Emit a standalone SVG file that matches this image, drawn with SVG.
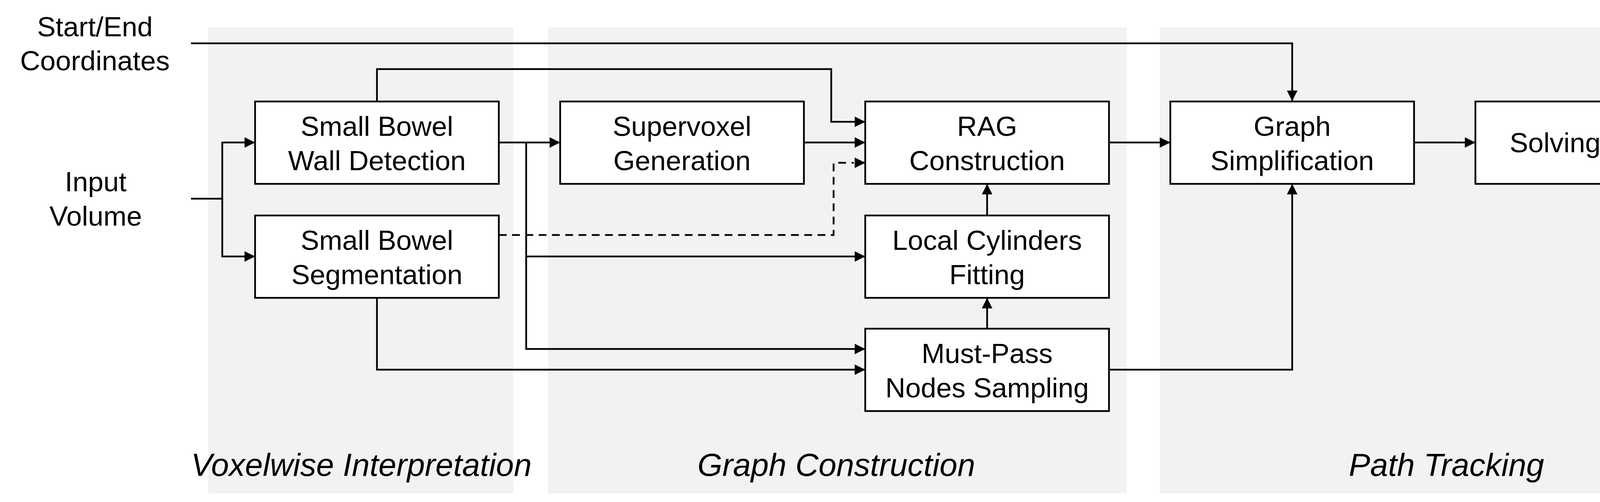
<svg xmlns="http://www.w3.org/2000/svg" width="4925" height="1286" viewBox="0 0 4925 1286">
<style>
.panel{fill:#f2f2f2}
.box{fill:#ffffff;stroke:#000000;stroke-width:4.5}
.t{font-family:"Liberation Sans",Arial,sans-serif;font-size:71px;fill:#000;text-anchor:middle}
.title{font-family:"Liberation Sans",Arial,sans-serif;font-size:82px;font-style:italic;fill:#000;text-anchor:middle}
.c{fill:none;stroke:#000;stroke-width:4.5}
.a{marker-end:url(#ah)}
.d{stroke-dasharray:20 14}
</style>
<defs>
<marker id="ah" markerUnits="userSpaceOnUse" markerWidth="28" markerHeight="28" refX="27" refY="13.5" orient="auto">
<path d="M0,0 L27,13.5 L0,27 z" fill="#000"/>
</marker>
</defs>
<g id="panels">
<rect class="panel" x="533" y="70" width="781" height="1194"/>
<rect class="panel" x="1403" y="70" width="1481" height="1194"/>
<rect class="panel" x="2969" y="70" width="1468" height="1194"/>
</g>
<g id="titles">
<text class="title" x="925" y="1219">Voxelwise Interpretation</text>
<text class="title" x="2141" y="1219">Graph Construction</text>
<text class="title" x="3703" y="1219">Path Tracking</text>
</g>
<g id="connectors">
<path class="c a" d="M489,111 H3308 V259"/>
<path class="c" d="M489,509 H569"/>
<path class="c a" d="M569,509 V365 H653"/>
<path class="c a" d="M569,509 V657 H653"/>
<path class="c a" d="M965,260 V177 H2128 V312 H2215"/>
<path class="c a" d="M1277,365 H1434"/>
<path class="c a" d="M1347,365 V894 H2215"/>
<path class="c a" d="M1347,657 H2215"/>
<path class="c a" d="M2059,365 H2215"/>
<path class="c d" d="M1277,602 H2134 V417 H2186"/>
<path class="c a" d="M2190,417 H2215"/>
<path class="c a" d="M965,763 V947 H2215"/>
<path class="c a" d="M2527,842 V763"/>
<path class="c a" d="M2527,552 V471"/>
<path class="c a" d="M2839,365 H2996"/>
<path class="c a" d="M2839,947 H3308 V471"/>
<path class="c a" d="M3620,365 H3777"/>
<path class="c a" d="M4402,365 H4557"/>
</g>
<g id="start-end">
<text class="t" x="243" y="93">Start/End</text>
<text class="t" x="243" y="180">Coordinates</text>
</g>
<g id="input-volume">
<text class="t" x="245" y="490">Input</text>
<text class="t" x="245" y="578">Volume</text>
</g>
<g id="wall-detection">
<rect class="box" x="653" y="260" width="624" height="211"/>
<text class="t" x="965" y="348">Small Bowel</text>
<text class="t" x="965" y="436">Wall Detection</text>
</g>
<g id="segmentation">
<rect class="box" x="653" y="552" width="624" height="211"/>
<text class="t" x="965" y="640">Small Bowel</text>
<text class="t" x="965" y="728">Segmentation</text>
</g>
<g id="supervoxel">
<rect class="box" x="1434" y="260" width="624" height="211"/>
<text class="t" x="1746" y="348">Supervoxel</text>
<text class="t" x="1746" y="436">Generation</text>
</g>
<g id="rag">
<rect class="box" x="2215" y="260" width="624" height="211"/>
<text class="t" x="2527" y="348">RAG</text>
<text class="t" x="2527" y="436">Construction</text>
</g>
<g id="cylinders">
<rect class="box" x="2215" y="552" width="624" height="211"/>
<text class="t" x="2527" y="640">Local Cylinders</text>
<text class="t" x="2527" y="728">Fitting</text>
</g>
<g id="must-pass">
<rect class="box" x="2215" y="842" width="624" height="211"/>
<text class="t" x="2527" y="930">Must-Pass</text>
<text class="t" x="2527" y="1018">Nodes Sampling</text>
</g>
<g id="graph-simplification">
<rect class="box" x="2996" y="260" width="624" height="211"/>
<text class="t" x="3308" y="348">Graph</text>
<text class="t" x="3308" y="436">Simplification</text>
</g>
<g id="tsp">
<rect class="box" x="3777" y="260" width="625" height="211"/>
<text class="t" x="4089" y="390">Solving a TSP</text>
</g>
<g id="tracked-path">
<text class="t" x="4725" y="346">Tracked</text>
<text class="t" x="4725" y="433">Path</text>
</g>
</svg>
